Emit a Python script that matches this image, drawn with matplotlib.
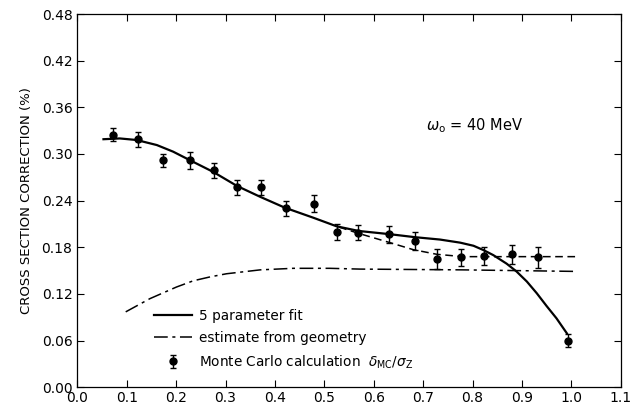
import matplotlib
matplotlib.use("Agg")
import matplotlib.pyplot as plt
import numpy as np

# Monte Carlo points
mc_x = [0.073, 0.122, 0.174, 0.228, 0.277, 0.323, 0.372, 0.422, 0.479, 0.525,
        0.569, 0.631, 0.684, 0.728, 0.777, 0.824, 0.879, 0.932, 0.993]
mc_y = [0.325, 0.319, 0.292, 0.292, 0.279, 0.257, 0.257, 0.230, 0.236, 0.200,
        0.199, 0.197, 0.188, 0.165, 0.167, 0.169, 0.171, 0.167, 0.060]
mc_err = [0.008, 0.0095, 0.0085, 0.011, 0.010, 0.010, 0.010, 0.010, 0.011, 0.010,
          0.010, 0.011, 0.012, 0.0125, 0.011, 0.012, 0.012, 0.014, 0.0085]

# 5 parameter fit (solid)
fit_x = [0.053, 0.086, 0.120, 0.161, 0.194, 0.228, 0.275, 0.323, 0.370, 0.420,
         0.478, 0.525, 0.570, 0.631, 0.684, 0.734, 0.775, 0.802, 0.822, 0.842,
         0.869, 0.889, 0.910, 0.930, 0.950, 0.970, 0.991]
fit_y = [0.319, 0.320, 0.318, 0.3115, 0.303, 0.292, 0.277, 0.259, 0.245, 0.231,
         0.218, 0.207, 0.201, 0.197, 0.193, 0.190, 0.186, 0.182, 0.1765, 0.170,
         0.159, 0.149, 0.136, 0.121, 0.1045, 0.0887, 0.0694]

# dashed curve through the MC points
dash_x = [0.530, 0.569, 0.633, 0.680, 0.728, 0.781, 0.822, 0.879, 0.95, 1.012]
dash_y = [0.206, 0.198, 0.186, 0.177, 0.171, 0.168, 0.168, 0.168, 0.168, 0.168]

# estimate from geometry (dash-dot)
geo_x = [0.098, 0.147, 0.201, 0.235, 0.269, 0.302, 0.370, 0.437, 0.511, 0.572,
         0.781, 1.011]
geo_y = [0.097, 0.114, 0.129, 0.137, 0.142, 0.146, 0.151, 0.153, 0.153, 0.152,
         0.151, 0.149]

plt.rcParams['font.family'] = ['DejaVu Sans']

fig = plt.figure(figsize=(6.31, 4.05), dpi=100)
ax = fig.add_axes([0.1225, 0.0437, 0.8612, 0.9217])

l_fit, = ax.plot(fit_x, fit_y, color='black', lw=1.6, label='5 parameter fit')
ax.plot(dash_x, dash_y, color='black', lw=1.1, dashes=(5, 3))
l_geo, = ax.plot(geo_x, geo_y, color='black', lw=1.1, dashes=(9, 3, 2, 3),
                 label='estimate from geometry')
l_mc = ax.errorbar(mc_x, mc_y, yerr=mc_err, fmt='o', color='black', ms=5,
                   elinewidth=1, capsize=2.5, capthick=1,
                   label=r'Monte Carlo calculation  $\delta_{\rm MC}/\sigma_{\rm Z}$')

ax.text(0.705, 0.337, r'$\omega_{\rm o}$ = 40 MeV', fontsize=10.5, va='center')

ax.set_xlim(0, 1.1)
ax.set_ylim(0, 0.48)
ax.set_xticks(np.arange(0, 1.11, 0.1))
ax.set_xticklabels([f'{v:.1f}' for v in np.arange(0, 1.11, 0.1)])
ax.set_yticks(np.arange(0, 0.481, 0.06))
ax.set_yticklabels([f'{v:.2f}' for v in np.arange(0, 0.481, 0.06)])
ax.tick_params(direction='in', top=True, right=True, length=5, width=0.8,
               labelsize=10)
ax.tick_params(axis='x', pad=3)
for s in ax.spines.values():
    s.set_linewidth(0.9)
ax.set_ylabel('CROSS SECTION CORRECTION (%)', fontsize=9.5, labelpad=6)

ax.legend(handles=[l_fit, l_geo, l_mc], loc='lower left',
          bbox_to_anchor=(0.118, 0.012), frameon=False, fontsize=9.8,
          handlelength=2.8, labelspacing=0.6, handletextpad=0.5)

fig.savefig('out.png', dpi=100)
